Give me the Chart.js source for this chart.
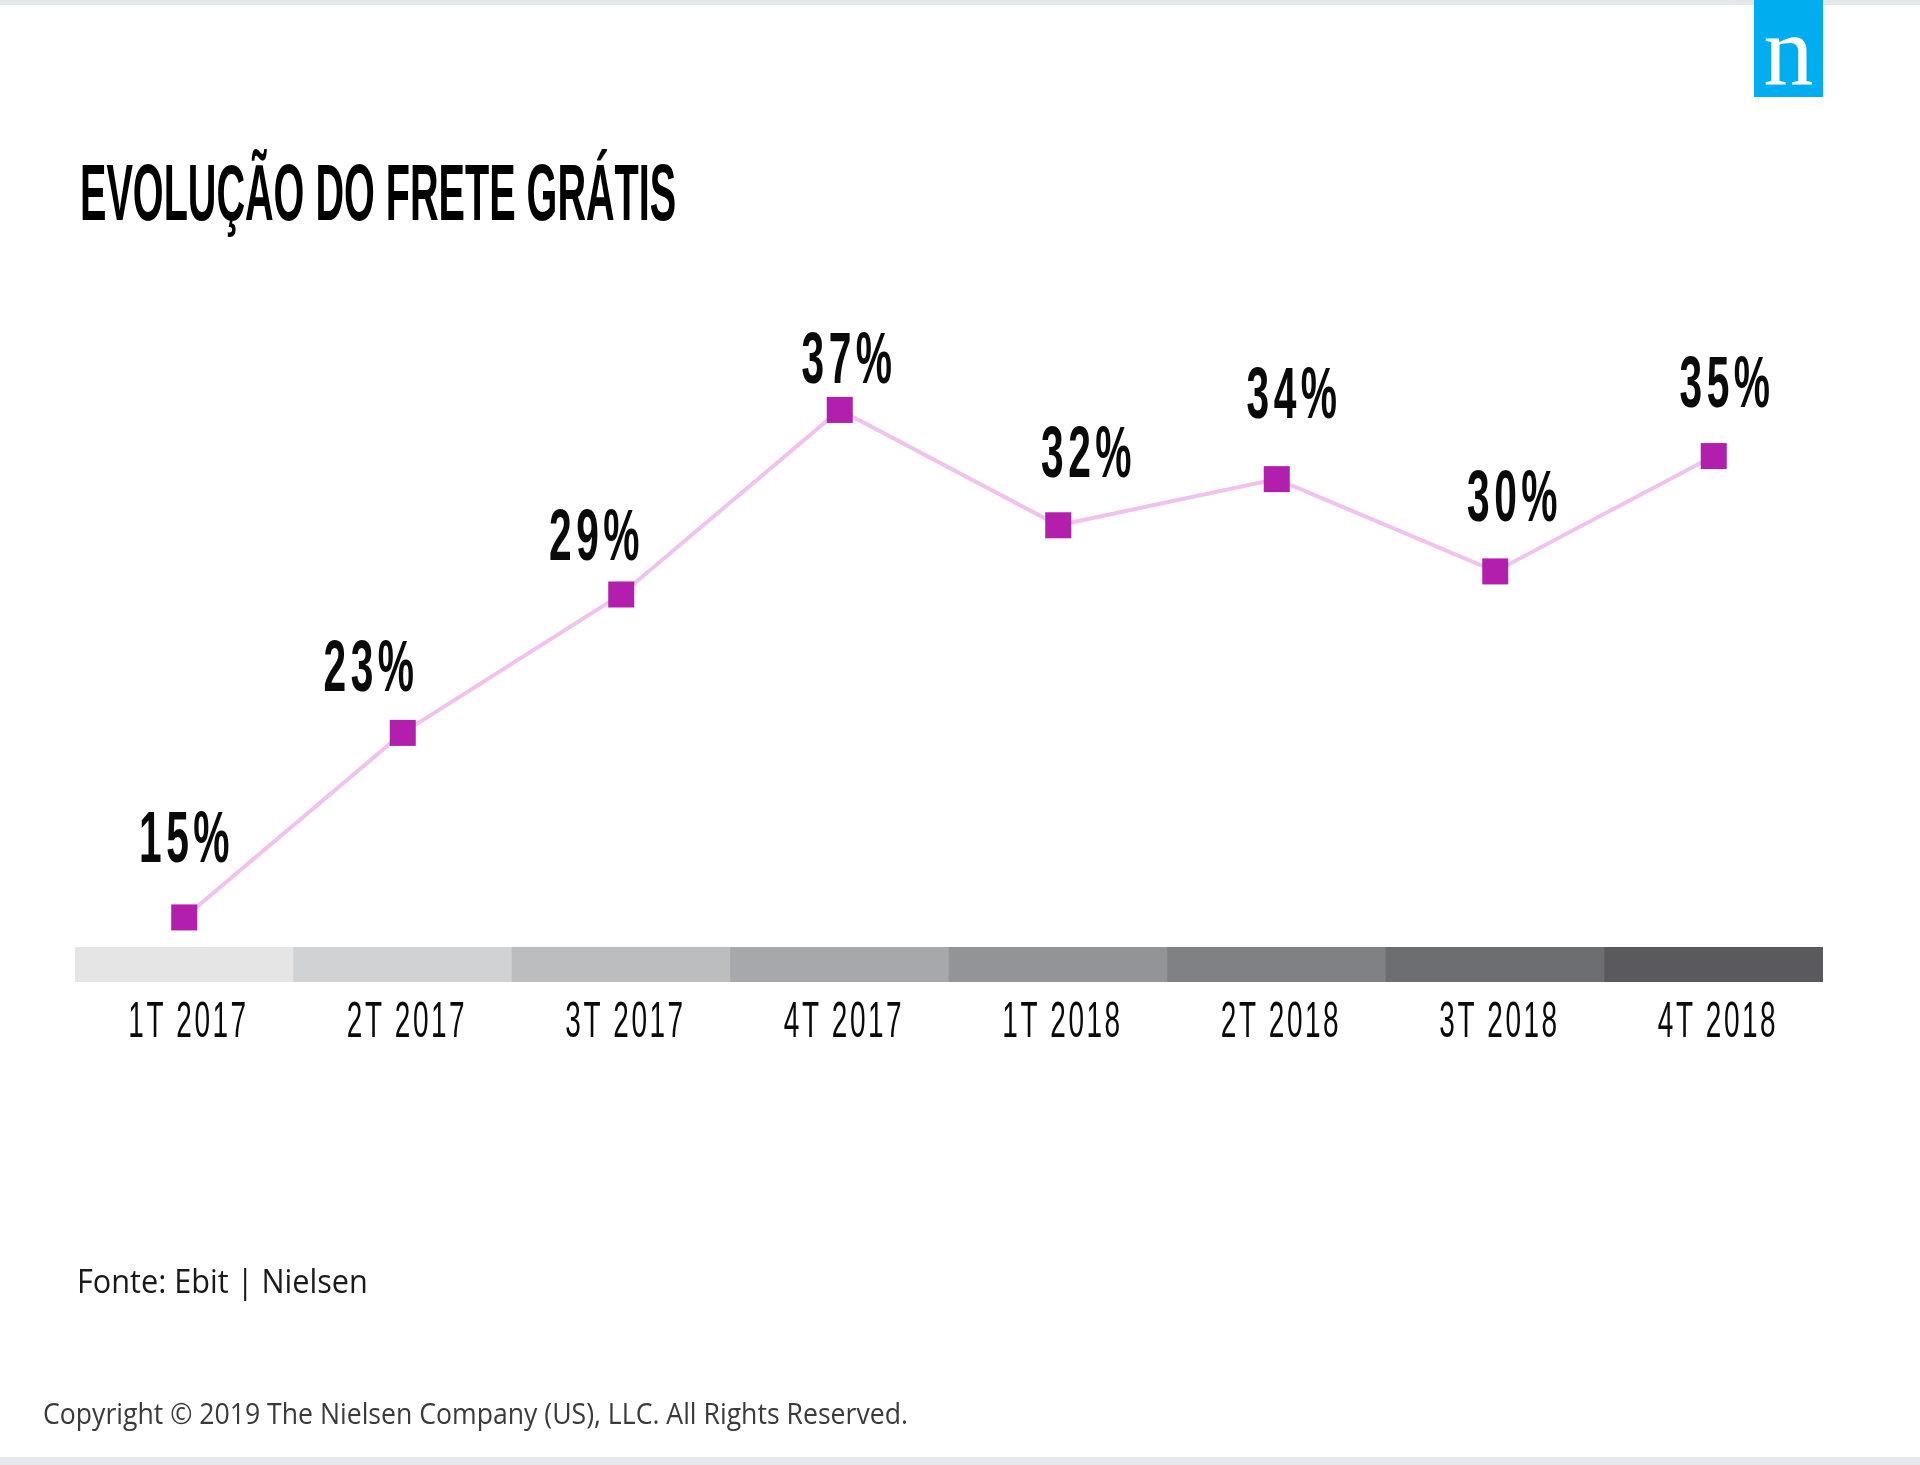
<!DOCTYPE html>
<html>
<head>
<meta charset="utf-8">
<script src="https://cdn.jsdelivr.net/npm/chart.js@4"></script>
<style>
  html, body { margin: 0; padding: 0; background: #fff; }
  #page { position: relative; width: 1920px; height: 1465px; overflow: hidden; }
  #wrap { position: absolute; left: 0; top: 0; width: 1920px; height: 1465px; }
  .bar { position: absolute; left: 0; width: 1920px; background: #e5e8eb; }
  #logo { position: absolute; left: 1754px; top: 0; width: 69px; height: 97px; background: #00aeef; }
  #logo span { position: absolute; left: 0; top: 1px; width: 69px; text-align: center;
    font: 100px/1 "Liberation Serif", serif; color: #fff; }
  .txt { position: absolute; white-space: nowrap; line-height: 1; transform-origin: 0 0; }
  #title { left: 80px; top: 147px; font: bold 80px "Liberation Sans", sans-serif; color: #000;
    transform: scaleX(0.495); }
  #source { left: 77px; top: 1259px; font: 32px "Open Sans", sans-serif; color: #1a1a1a;
    transform: scaleX(0.958); }
  #copy { left: 43px; top: 1393px; font: 29px "Open Sans", sans-serif; color: #3a3a3a;
    transform: scaleX(0.918); }
</style>
</head>
<body>
<div id="page">
  <div id="wrap"><canvas id="chart"></canvas></div>
  <div class="bar" style="top:0;height:5px"></div>
  <div class="bar" style="top:1457px;height:8px"></div>
  <div id="logo"><span>n</span></div>
  <div class="txt" id="title">EVOLUÇÃO DO FRETE GRÁTIS</div>
  <div class="txt" id="source">Fonte: Ebit | Nielsen</div>
  <div class="txt" id="copy">Copyright © 2019 The Nielsen Company (US), LLC. All Rights Reserved.</div>
</div>
<script>
// data
const quarters = ["1T 2017", "2T 2017", "3T 2017", "4T 2017", "1T 2018", "2T 2018", "3T 2018", "4T 2018"];
const freeShipping = [15, 23, 29, 37, 32, 34, 30, 35];
const bandRange = [0, 5]; // the grey strip under the line, on its own 0-100 axis

// styles
const bandShades = ["#e5e5e6", "#d1d2d4", "#bcbdbf", "#a7a8ab", "#939497", "#808184", "#6d6e71", "#5a595d"];
// label nudges (x, y) from each marker, px
const labelShift = [[0, -55], [-34, -42], [-27, -34], [7, -27], [28, -48], [15, -61], [17, -50], [11, -49]];

// condensed, letter-spaced text: scale x, keep the centre where it should be
function spacedText(ctx, text, x, y, font, sx, spacing, nudge) {
  ctx.save();
  ctx.translate(x + nudge, y);
  ctx.scale(sx, 1);
  ctx.font = font;
  ctx.letterSpacing = spacing + "px";
  ctx.fillText(text, spacing / 2, 0);
  ctx.restore();
}

// draws the % labels and the quarter names
const textPlugin = {
  id: "condensedText",
  afterDatasetsDraw(chart) {
    const ctx = chart.ctx;
    const meta = chart.getDatasetMeta(0);
    const xs = chart.scales.x;
    ctx.save();
    ctx.textAlign = "center";
    ctx.textBaseline = "alphabetic";
    ctx.fillStyle = "#0a0a0a";

    meta.data.forEach((pt, i) => {
      spacedText(ctx, freeShipping[i] + "%", pt.x + labelShift[i][0], pt.y + labelShift[i][1],
        'bold 72px "Liberation Sans"', 0.565, 8, 0);
    });

    const baseY = chart.chartArea.bottom + 55;
    quarters.forEach((q, i) => {
      spacedText(ctx, q, xs.getPixelForValue(i), baseY, '50px "Liberation Sans"', 0.56, 4.5, 3);
    });
    ctx.restore();
  }
};

new Chart(document.getElementById("chart"), {
  type: "line",
  data: {
    labels: quarters,
    datasets: [
      {
        type: "line",
        data: freeShipping,
        order: 0,
        borderColor: "#f2c2ee",
        borderWidth: 4,
        tension: 0,
        pointStyle: "rect",
        pointRadius: 18.4,
        pointBorderWidth: 0,
        pointBackgroundColor: "#b21fac",
        clip: false,
        yAxisID: "y"
      },
      {
        type: "bar",
        data: quarters.map(() => bandRange),
        order: 1,
        backgroundColor: bandShades,
        borderWidth: 0,
        barPercentage: 1,
        categoryPercentage: 1,
        yAxisID: "band"
      }
    ]
  },
  options: {
    responsive: true,
    maintainAspectRatio: false,
    devicePixelRatio: 1,
    animation: false,
    events: [],
    layout: { padding: { left: 75, right: 97, top: 290, bottom: 483 } },
    plugins: { legend: { display: false }, tooltip: { enabled: false } },
    scales: {
      x: { display: false, offset: true },
      y: { display: false, min: 12.2, max: 42.2 },
      band: { display: false, min: 0, max: 100 }
    }
  },
  plugins: [textPlugin]
});
</script>
</body>
</html>
